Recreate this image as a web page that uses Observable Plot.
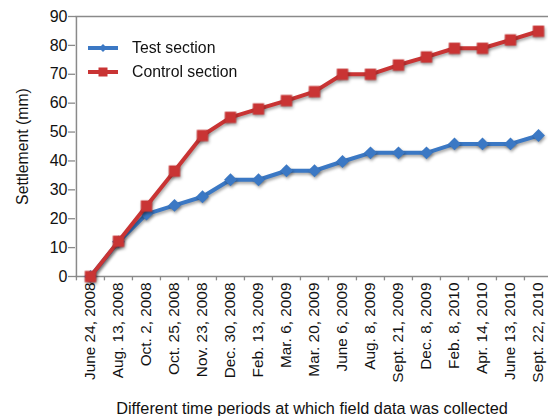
<!DOCTYPE html>
<html>
<head>
<meta charset="utf-8">
<script src="https://cdn.jsdelivr.net/npm/d3@7"></script>
<script src="https://cdn.jsdelivr.net/npm/@observablehq/plot@0.6"></script>
<style>
  html, body { margin: 0; padding: 0; background: #fff; }
  #wrap { position: relative; width: 548px; height: 416px; overflow: hidden; font-family: "Liberation Sans", Arial, sans-serif; }
  #legend { position: absolute; left: 88px; top: 36px; font-size: 15.8px; color: #111; }
  #legend .row { display: flex; align-items: center; height: 24px; }
  #legend svg { margin-right: 14px; }
  .series-line { filter: drop-shadow(1px 2px 1.5px rgba(0,0,0,0.35)); }
</style>
</head>
<body>
<div id="wrap"><div id="legend"></div></div>
<script>
const dates = ["June 24, 2008","Aug. 13, 2008","Oct. 2, 2008","Oct. 25, 2008","Nov. 23, 2008","Dec. 30, 2008","Feb. 13, 2009","Mar. 6, 2009","Mar. 20, 2009","June 6, 2009","Aug. 8, 2009","Sept. 21, 2009","Dec. 8, 2009","Feb. 8, 2010","Apr. 14, 2010","June 13, 2010","Sept. 22, 2010"];
const testSection = [0, 12, 21.6, 24.6, 27.6, 33.5, 33.5, 36.6, 36.6, 39.8, 42.8, 42.8, 42.8, 45.9, 45.9, 45.9, 48.8];
const controlSection = [0, 12.2, 24.4, 36.5, 48.8, 55.1, 58, 60.9, 64, 70, 70, 73.2, 76, 79, 79, 81.9, 84.9];
const yTicks = [0, 10, 20, 30, 40, 50, 60, 70, 80, 90];
const seriesNames = ["Test section", "Control section"];
const colors = ["#3b78c4", "#c93434"];

const test = dates.map((d, i) => ({date: d, value: testSection[i]}));
const control = dates.map((d, i) => ({date: d, value: controlSection[i]}));

const xRange = [75, 553];
const step = (xRange[1] - xRange[0]) / dates.length;
const axisGray = "#8a8a8a";

const chart = Plot.plot({
  width: 548,
  height: 416,
  marginLeft: 75,
  marginRight: 0,
  marginTop: 16,
  marginBottom: 140,
  style: {fontFamily: "'Liberation Sans', Arial, sans-serif", fontSize: "14px", color: "#111", background: "#fff"},
  x: {type: "band", domain: dates, range: xRange, padding: 0, label: null},
  y: {domain: [0, 90], label: null},
  marks: [
    Plot.ruleY([90], {stroke: axisGray, strokeWidth: 1.5}),
    Plot.ruleY([0], {stroke: axisGray, strokeWidth: 1.5}),
    Plot.ruleX(dates, {x: d => d, y1: 0, y2: -1.5, dx: -step / 2, stroke: axisGray, strokeWidth: 1.3}),
    Plot.axisY({ticks: yTicks, tickSize: 7, tickPadding: 1, stroke: axisGray, strokeWidth: 1.3, fontSize: 16, fill: "#111"}),
    Plot.ruleX([dates[0]], {x: d => d, dx: -step / 2, y1: 0, y2: 90, stroke: axisGray, strokeWidth: 1.5}),
    Plot.axisX({tickSize: 0, tickRotate: -90, tickPadding: 6, fontSize: 15.4, fill: "#111", textAnchor: "end"}),
    Plot.text(["Different time periods at which field data was collected"], {frameAnchor: "bottom", dy: 137, fontSize: 16.3, fill: "#111", lineAnchor: "bottom"}),
    Plot.text(["Settlement (mm)"], {frameAnchor: "left", textAnchor: "middle", dx: -53, rotate: -90, fontSize: 15.8, fill: "#111"}),
    Plot.line(test, {x: "date", y: "value", stroke: colors[0], strokeWidth: 4, className: "series-line"}),
    Plot.dot(test, {x: "date", y: "value", symbol: "diamond2", r: 5.8, fill: colors[0], stroke: "none", className: "series-line"}),
    Plot.line(control, {x: "date", y: "value", stroke: colors[1], strokeWidth: 4, className: "series-line"}),
    Plot.dot(control, {x: "date", y: "value", symbol: "square", r: 6.4, fill: colors[1], stroke: "none", className: "series-line"})
  ]
});
document.getElementById("wrap").prepend(chart);

const legend = document.getElementById("legend");
seriesNames.forEach((name, i) => {
  const row = document.createElement("div");
  row.className = "row";
  const marker = i === 0
    ? `<path d="M15 8 L19 12 L15 16 L11 12 Z" fill="${colors[0]}"/>`
    : `<rect x="10.5" y="7.5" width="9" height="9" fill="${colors[1]}"/>`;
  row.innerHTML = `<svg width="30" height="24"><line x1="0" y1="12" x2="30" y2="12" stroke="${colors[i]}" stroke-width="4"/>${marker}</svg><span>${name}</span>`;
  legend.appendChild(row);
});
</script>
</body>
</html>
